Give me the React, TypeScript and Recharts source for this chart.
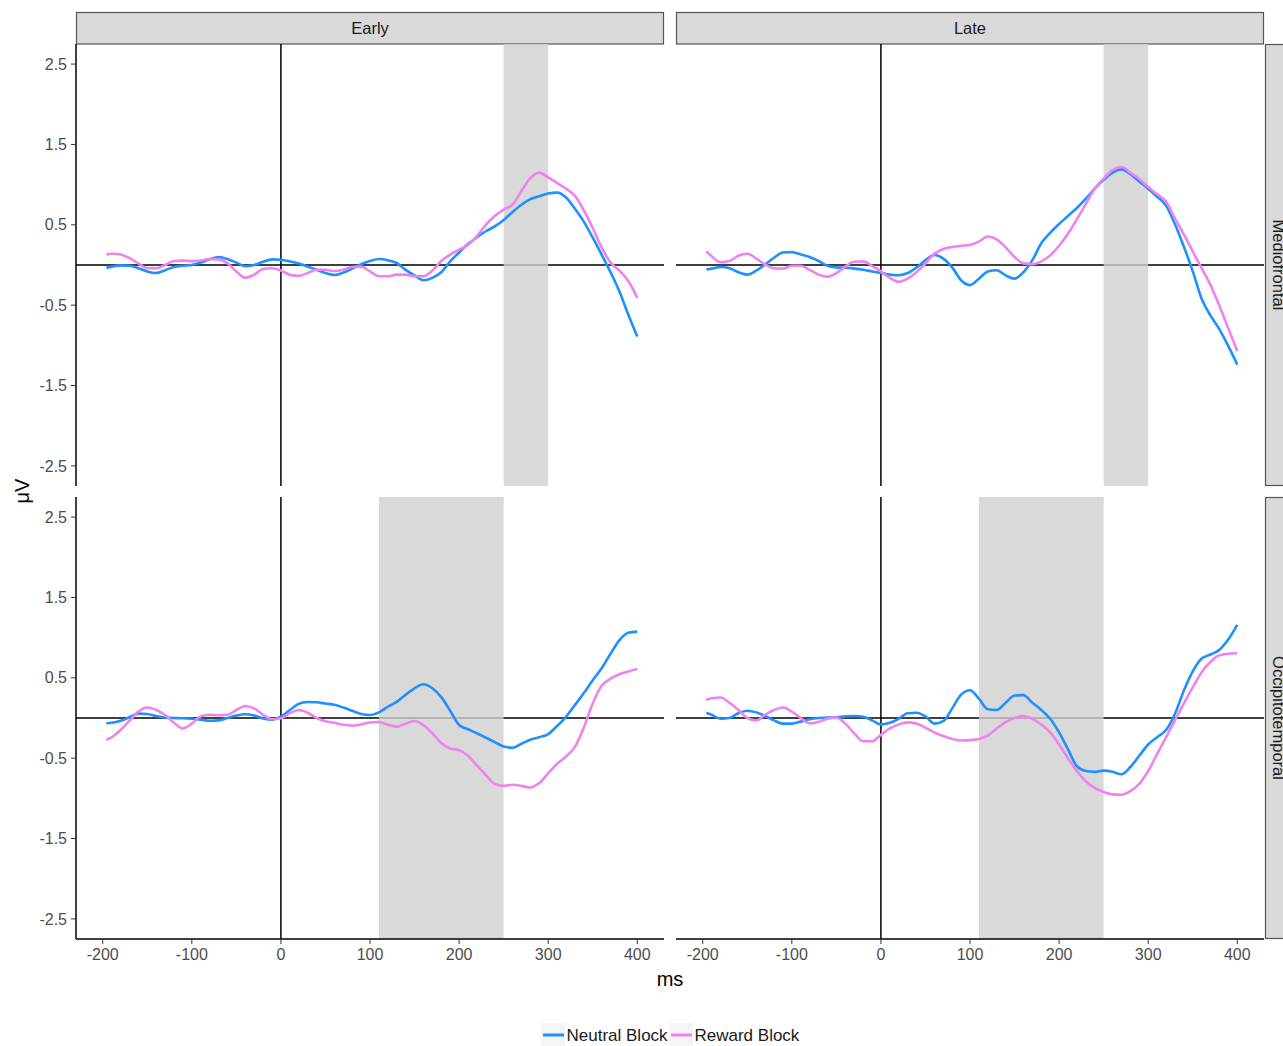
import React from 'react';
import { LineChart, Line, XAxis, YAxis, ReferenceLine, ReferenceArea } from 'recharts';

// Time points (ms) of the grand-average ERP waveforms
const times = [
  -196, -190, -180, -170, -160, -150, -140, -130, -120, -110,
  -100, -90, -80, -70, -60, -50, -40, -30, -20, -10,
  0, 10, 20, 30, 40, 50, 60, 70, 80, 90,
  100, 110, 120, 130, 140, 150, 160, 170, 180, 190,
  200, 210, 220, 230, 240, 250, 260, 270, 280, 290,
  300, 310, 320, 330, 340, 350, 360, 370, 380, 390, 400,
];

// Early / Mediofrontal
const earlyFrontalNeutral = [
  -0.035, -0.02, -0.005, -0.01, -0.04, -0.08, -0.10, -0.065, -0.025, -0.01,
  0.0, 0.03, 0.07, 0.10, 0.075, 0.03, -0.015, 0.0, 0.04, 0.07,
  0.065, 0.045, 0.02, -0.02, -0.06, -0.10, -0.125, -0.095, -0.045, 0.01,
  0.05, 0.075, 0.06, 0.025, -0.06, -0.13, -0.19, -0.16, -0.09, 0.045,
  0.155, 0.26, 0.345, 0.42, 0.48, 0.56, 0.66, 0.75, 0.82, 0.855,
  0.89, 0.90, 0.84, 0.70, 0.54, 0.34, 0.13, -0.09, -0.33, -0.62, -0.89,
];
const earlyFrontalReward = [
  0.13, 0.14, 0.13, 0.085, 0.02, -0.04, -0.04, 0.0, 0.05, 0.055,
  0.048, 0.055, 0.075, 0.07, 0.02, -0.08, -0.16, -0.12, -0.05, -0.04,
  -0.07, -0.12, -0.135, -0.10, -0.06, -0.06, -0.075, -0.06, -0.025, -0.02,
  -0.08, -0.14, -0.14, -0.12, -0.12, -0.14, -0.14, -0.07, 0.05, 0.13,
  0.19, 0.25, 0.36, 0.50, 0.61, 0.69, 0.75, 0.92, 1.08, 1.15,
  1.09, 1.02, 0.95, 0.86, 0.68, 0.46, 0.22, 0.03, -0.07, -0.20, -0.41,
];

// Late / Mediofrontal
const lateFrontalNeutral = [
  -0.056, -0.045, -0.025, -0.04, -0.09, -0.12, -0.07, 0.006, 0.09, 0.155,
  0.16, 0.13, 0.10, 0.05, -0.01, -0.03, -0.035, -0.045, -0.06, -0.08,
  -0.10, -0.12, -0.127, -0.10, -0.03, 0.06, 0.125, 0.08, -0.03, -0.19,
  -0.25, -0.17, -0.08, -0.065, -0.13, -0.17, -0.09, 0.06, 0.27, 0.40,
  0.51, 0.61, 0.71, 0.825, 0.95, 1.06, 1.15, 1.19, 1.13, 1.04,
  0.95, 0.85, 0.74, 0.51, 0.23, -0.077, -0.42, -0.63, -0.80, -1.01, -1.24,
];
const lateFrontalReward = [
  0.17, 0.11, 0.035, 0.05, 0.115, 0.14, 0.08, 0.006, -0.04, -0.045,
  -0.01, -0.01, -0.06, -0.12, -0.147, -0.10, -0.02, 0.04, 0.045, -0.01,
  -0.08, -0.16, -0.21, -0.17, -0.09, 0.02, 0.14, 0.20, 0.225, 0.24,
  0.25, 0.29, 0.355, 0.32, 0.22, 0.10, 0.02, 0.01, 0.045, 0.12,
  0.24, 0.39, 0.57, 0.76, 0.95, 1.075, 1.18, 1.22, 1.15, 1.07,
  0.97, 0.88, 0.79, 0.58, 0.38, 0.17, -0.04, -0.25, -0.51, -0.79, -1.07,
];

// Early / Occipitotemporal
const earlyOccipitalNeutral = [
  -0.066, -0.06, -0.035, 0.01, 0.055, 0.05, 0.025, 0.004, 0.0, -0.004,
  -0.01, -0.02, -0.035, -0.03, 0.0, 0.03, 0.046, 0.03, -0.005, -0.02,
  0.017, 0.10, 0.175, 0.20, 0.195, 0.18, 0.165, 0.13, 0.09, 0.05,
  0.037, 0.07, 0.14, 0.20, 0.29, 0.37, 0.42, 0.37, 0.26, 0.09,
  -0.087, -0.14, -0.19, -0.245, -0.30, -0.355, -0.37, -0.32, -0.27, -0.24,
  -0.20, -0.10, 0.015, 0.16, 0.31, 0.47, 0.62, 0.80, 0.97, 1.06, 1.075,
];
const earlyOccipitalReward = [
  -0.27, -0.24, -0.15, -0.035, 0.08, 0.13, 0.10, 0.037, -0.06, -0.13,
  -0.07, 0.02, 0.04, 0.035, 0.04, 0.10, 0.15, 0.12, 0.04, -0.015,
  -0.004, 0.06, 0.10, 0.065, 0.0, -0.04, -0.06, -0.085, -0.095, -0.08,
  -0.055, -0.05, -0.085, -0.108, -0.07, -0.037, -0.09, -0.19, -0.31, -0.38,
  -0.40, -0.47, -0.59, -0.71, -0.82, -0.845, -0.83, -0.845, -0.865, -0.81,
  -0.69, -0.57, -0.48, -0.36, -0.12, 0.18, 0.40, 0.49, 0.545, 0.58, 0.61,
];

// Late / Occipitotemporal
const lateOccipitalNeutral = [
  0.066, 0.04, -0.01, 0.0, 0.06, 0.09, 0.07, 0.025, -0.03, -0.07,
  -0.07, -0.045, -0.015, 0.0, 0.005, 0.01, 0.02, 0.025, 0.015, -0.03,
  -0.08, -0.06, -0.01, 0.06, 0.065, 0.02, -0.07, -0.04, 0.12, 0.29,
  0.345, 0.24, 0.11, 0.10, 0.19, 0.28, 0.285, 0.19, 0.10, -0.01,
  -0.18, -0.39, -0.60, -0.66, -0.67, -0.655, -0.67, -0.70, -0.61, -0.47,
  -0.33, -0.24, -0.15, 0.05, 0.34, 0.58, 0.74, 0.79, 0.85, 0.98, 1.16,
];
const lateOccipitalReward = [
  0.224, 0.245, 0.255, 0.19, 0.10, 0.0, -0.03, 0.04, 0.10, 0.13,
  0.08, 0.0, -0.065, -0.05, -0.01, 0.005, -0.07, -0.19, -0.29, -0.29,
  -0.21, -0.13, -0.08, -0.055, -0.07, -0.12, -0.18, -0.225, -0.26, -0.28,
  -0.275, -0.26, -0.22, -0.13, -0.05, 0.0, 0.025, -0.01, -0.08, -0.18,
  -0.33, -0.50, -0.66, -0.79, -0.87, -0.92, -0.95, -0.955, -0.91, -0.82,
  -0.66, -0.45, -0.24, -0.03, 0.18, 0.38, 0.57, 0.70, 0.78, 0.80, 0.805,
];

// Analysis windows (ms) per component row
const frontalWindow = [250, 300];
const occipitalWindow = [110, 250];

const columnLabels = ['Early', 'Late'];
const rowLabels = ['Mediofrontal', 'Occipitotemporal'];
const seriesNames = ['Neutral Block', 'Reward Block'];
const seriesColors = ['#1E90FF', '#EE82EE'];

const xTicks = [-200, -100, 0, 100, 200, 300, 400];
const yTicks = [-2.5, -1.5, -0.5, 0.5, 1.5, 2.5];

const FONT = '"Liberation Sans", Arial, Helvetica, sans-serif';
const PANEL_W = 588;
const PANEL_H = 442;
const COL_X = [76, 676];
const ROW_Y = [44, 497];
const Y_AXIS_W = 76;
const X_AXIS_H = 40;

type PanelProps = {
  neutral: number[];
  reward: number[];
  band: number[];
  showX: boolean;
  showY: boolean;
  left: number;
  top: number;
};

function Panel({ neutral, reward, band, showX, showY, left, top }: PanelProps) {
  const data = times.map((t, i) => ({ t, neutral: neutral[i], reward: reward[i] }));
  const yW = showY ? Y_AXIS_W : 0;
  const xH = showX ? X_AXIS_H : 0;
  const tickStyle = { fill: '#4d4d4d', fontSize: 16, fontFamily: FONT };
  return (
    <div style={{ position: 'absolute', left: left - yW, top }}>
      <LineChart
        width={PANEL_W + yW}
        height={PANEL_H + xH}
        data={data}
        margin={{ top: 0, right: 0, bottom: 0, left: 0 }}
      >
        <XAxis
          type="number"
          dataKey="t"
          domain={[-230, 430]}
          allowDataOverflow
          ticks={xTicks}
          hide={!showX}
          height={X_AXIS_H}
          axisLine={{ stroke: '#000', strokeWidth: 1.5 }}
          tickLine={{ stroke: '#333', strokeWidth: 1 }}
          tickSize={5}
          tickMargin={5}
          tick={tickStyle}
        />
        <YAxis
          type="number"
          domain={[-2.75, 2.75]}
          allowDataOverflow
          ticks={yTicks}
          hide={!showY}
          width={Y_AXIS_W}
          axisLine={{ stroke: '#000', strokeWidth: 1.5 }}
          tickLine={{ stroke: '#333', strokeWidth: 1 }}
          tickSize={5}
          tickMargin={4}
          tick={tickStyle}
        />
        <ReferenceLine y={0} stroke="#000" strokeWidth={1.5} zIndex={50} />
        <ReferenceLine x={0} stroke="#000" strokeWidth={1.5} zIndex={50} />
        <ReferenceArea
          x1={band[0]}
          x2={band[1]}
          fill="#cfcfcf"
          fillOpacity={0.8}
          stroke="none"
          zIndex={100}
        />
        <Line
          type="monotone"
          dataKey="neutral"
          name={seriesNames[0]}
          stroke={seriesColors[0]}
          strokeWidth={2.6}
          dot={false}
          activeDot={false}
          isAnimationActive={false}
        />
        <Line
          type="monotone"
          dataKey="reward"
          name={seriesNames[1]}
          stroke={seriesColors[1]}
          strokeWidth={2.6}
          dot={false}
          activeDot={false}
          isAnimationActive={false}
        />
      </LineChart>
    </div>
  );
}

function Decorations() {
  const stripFill = '#D9D9D9';
  const stripStroke = '#555';
  return (
    <svg
      width={1283}
      height={1046}
      style={{ position: 'absolute', left: 0, top: 0 }}
      fontFamily={FONT}
    >
      {/* column strips */}
      {columnLabels.map((label, i) => (
        <g key={label}>
          <rect
            x={COL_X[i] + 0.5}
            y={12.5}
            width={PANEL_W - 1}
            height={31.5}
            fill={stripFill}
            stroke={stripStroke}
            strokeWidth={1.2}
          />
          <text
            x={COL_X[i] + PANEL_W / 2}
            y={28}
            textAnchor="middle"
            dominantBaseline="central"
            fontSize={16.5}
            fill="#1a1a1a"
          >
            {label}
          </text>
        </g>
      ))}
      {/* row strips */}
      {rowLabels.map((label, i) => (
        <g key={label}>
          <rect
            x={1265.5}
            y={ROW_Y[i] + 0.5}
            width={40}
            height={PANEL_H - 1}
            fill={stripFill}
            stroke={stripStroke}
            strokeWidth={1.2}
          />
          <text
            transform={`translate(1273, ${ROW_Y[i] + PANEL_H / 2}) rotate(90)`}
            textAnchor="middle"
            fontSize={16.5}
            fill="#1a1a1a"
          >
            {label}
          </text>
        </g>
      ))}
      {/* axis titles */}
      <text x={670} y={979} textAnchor="middle" dominantBaseline="central" fontSize={20} fill="#000">
        ms
      </text>
      <text
        transform="translate(22, 491) rotate(-90)"
        textAnchor="middle"
        dominantBaseline="central"
        fontSize={20}
        fill="#000"
      >
        μV
      </text>
      {/* legend */}
      {seriesNames.map((name, i) => {
        const keyX = i === 0 ? 541 : 669;
        return (
          <g key={name}>
            <rect x={keyX} y={1023} width={24} height={24} fill="#f5f5f5" />
            <line x1={keyX + 2} x2={keyX + 23} y1={1035} y2={1035} stroke={seriesColors[i]} strokeWidth={3} />
            <text x={keyX + 25.5} y={1035} dominantBaseline="central" fontSize={17} fill="#1a1a1a">
              {name}
            </text>
          </g>
        );
      })}
    </svg>
  );
}

export default function App() {
  return (
    <div
      style={{
        position: 'absolute',
        left: 0,
        top: 0,
        width: 1283,
        height: 1046,
        overflow: 'hidden',
        background: '#fff',
      }}
    >
      <Decorations />
      <Panel neutral={earlyFrontalNeutral} reward={earlyFrontalReward} band={frontalWindow}
        showX={false} showY left={COL_X[0]} top={ROW_Y[0]} />
      <Panel neutral={lateFrontalNeutral} reward={lateFrontalReward} band={frontalWindow}
        showX={false} showY={false} left={COL_X[1]} top={ROW_Y[0]} />
      <Panel neutral={earlyOccipitalNeutral} reward={earlyOccipitalReward} band={occipitalWindow}
        showX showY left={COL_X[0]} top={ROW_Y[1]} />
      <Panel neutral={lateOccipitalNeutral} reward={lateOccipitalReward} band={occipitalWindow}
        showX showY={false} left={COL_X[1]} top={ROW_Y[1]} />
    </div>
  );
}
